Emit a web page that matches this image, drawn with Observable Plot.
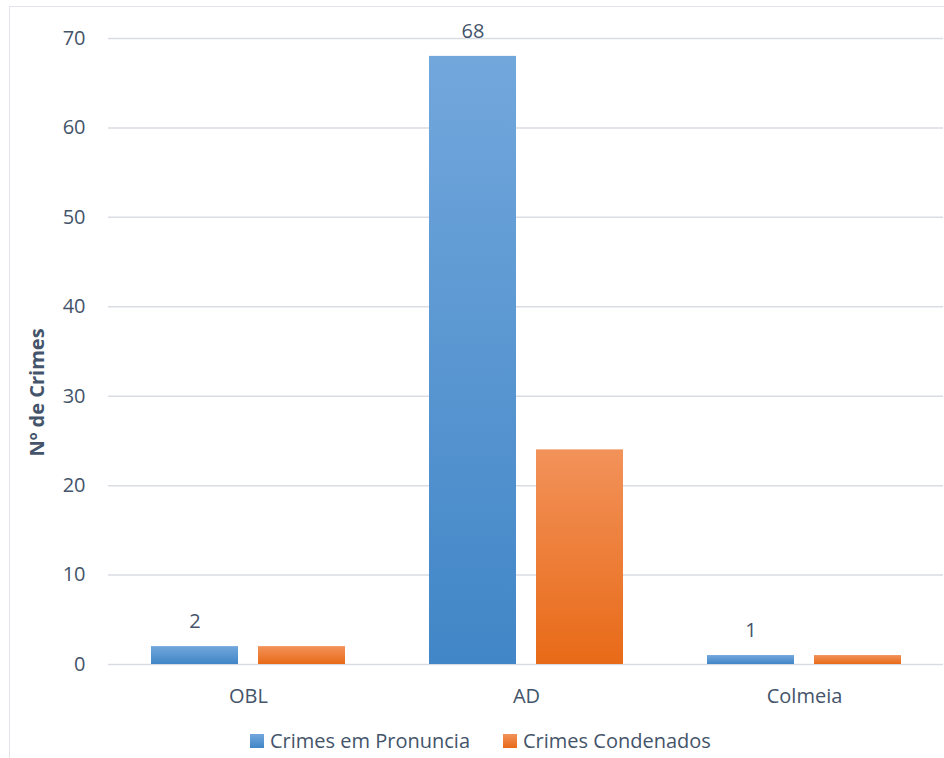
<!DOCTYPE html>
<html>
<head>
<meta charset="utf-8">
<script src="https://cdn.jsdelivr.net/npm/d3@7"></script>
<script src="https://cdn.jsdelivr.net/npm/@observablehq/plot@0.6"></script>
<style>
  html, body { margin: 0; padding: 0; background: #fff; overflow: hidden; width: 944px; height: 758px; }
  #frame { position: absolute; left: 9px; top: 6px; width: 1000px; height: 800px; border: 1.5px solid #e1e5ea; box-sizing: border-box; }
  #chart { position: absolute; left: 0; top: 0; }
  #legend { position: absolute; left: 250px; top: 727px; display: flex; align-items: center; font-family: "Open Sans", sans-serif; font-size: 20px; color: #44546a; white-space: nowrap; }
  .item { display: flex; align-items: center; }
  .sw { width: 14px; height: 14px; margin-right: 6px; }
</style>
</head>
<body>
<div id="frame"></div>
<div id="chart"></div>
<div id="legend"></div>
<script>
const categories = ["OBL", "AD", "Colmeia"];
const series = ["Crimes em Pronuncia", "Crimes Condenados"];
const pronuncia = [2, 68, 1];
const condenados = [2, 24, 1];
const yTicks = [0, 10, 20, 30, 40, 50, 60, 70];
const yLabel = "Nº de Crimes";

const rowsP = categories.map((c, i) => ({cat: c, v: pronuncia[i]}));
const rowsC = categories.map((c, i) => ({cat: c, v: condenados[i]}));

const defs = () => {
  const d = d3.create("svg:defs");
  const g1 = d.append("linearGradient").attr("id", "gBlue").attr("x1", 0).attr("y1", 0).attr("x2", 0).attr("y2", 1);
  g1.append("stop").attr("offset", "0%").attr("stop-color", "#72a7dc");
  g1.append("stop").attr("offset", "100%").attr("stop-color", "#4186c7");
  const g2 = d.append("linearGradient").attr("id", "gOrange").attr("x1", 0).attr("y1", 0).attr("x2", 0).attr("y2", 1);
  g2.append("stop").attr("offset", "0%").attr("stop-color", "#f2925a");
  g2.append("stop").attr("offset", "100%").attr("stop-color", "#e86a17");
  return d.node();
};

const chart = Plot.plot({
  width: 944,
  height: 720,
  marginLeft: 108,
  marginRight: 1,
  marginTop: 38,
  marginBottom: 56,
  style: {fontFamily: "Open Sans, sans-serif", fontSize: "20px", color: "#44546a", background: "transparent", overflow: "visible"},
  x: {domain: categories, padding: 0, label: null, tickSize: 0, tickPadding: 24},
  y: {domain: [0, 70], ticks: yTicks, label: null, tickSize: 0, tickPadding: 23},
  marks: [
    defs,
    Plot.gridY(yTicks, {stroke: "#d9dde3", strokeOpacity: 1, strokeWidth: 1.5}),
    Plot.barY(rowsP, {x: "cat", y: "v", fill: "url(#gBlue)", insetLeft: 42, insetRight: 149}),
    Plot.barY(rowsC, {x: "cat", y: "v", fill: "url(#gOrange)", insetLeft: 149, insetRight: 42}),
    Plot.text(rowsP, {x: "cat", y: "v", text: d => String(d.v), dx: -53.5, dy: -25, lineAnchor: "middle", fill: "#44546a", fontSize: 20}),
    Plot.text([yLabel], {frameAnchor: "left", textAnchor: "middle", text: d => d, rotate: -90, dx: -71, dy: 41, fontWeight: "bold", fontSize: 20, fill: "#44546a"})
  ]
});
document.getElementById("chart").appendChild(chart);

const legend = document.getElementById("legend");
const grads = ["linear-gradient(#72a7dc, #4186c7)", "linear-gradient(#f2925a, #e86a17)"];
series.forEach((s, i) => {
  const it = document.createElement("div");
  it.className = "item";
  if (i > 0) it.style.marginLeft = "33px";
  const sw = document.createElement("div");
  sw.className = "sw";
  sw.style.background = grads[i];
  const t = document.createElement("span");
  t.textContent = s;
  it.appendChild(sw); it.appendChild(t);
  legend.appendChild(it);
});
</script>
</body>
</html>
